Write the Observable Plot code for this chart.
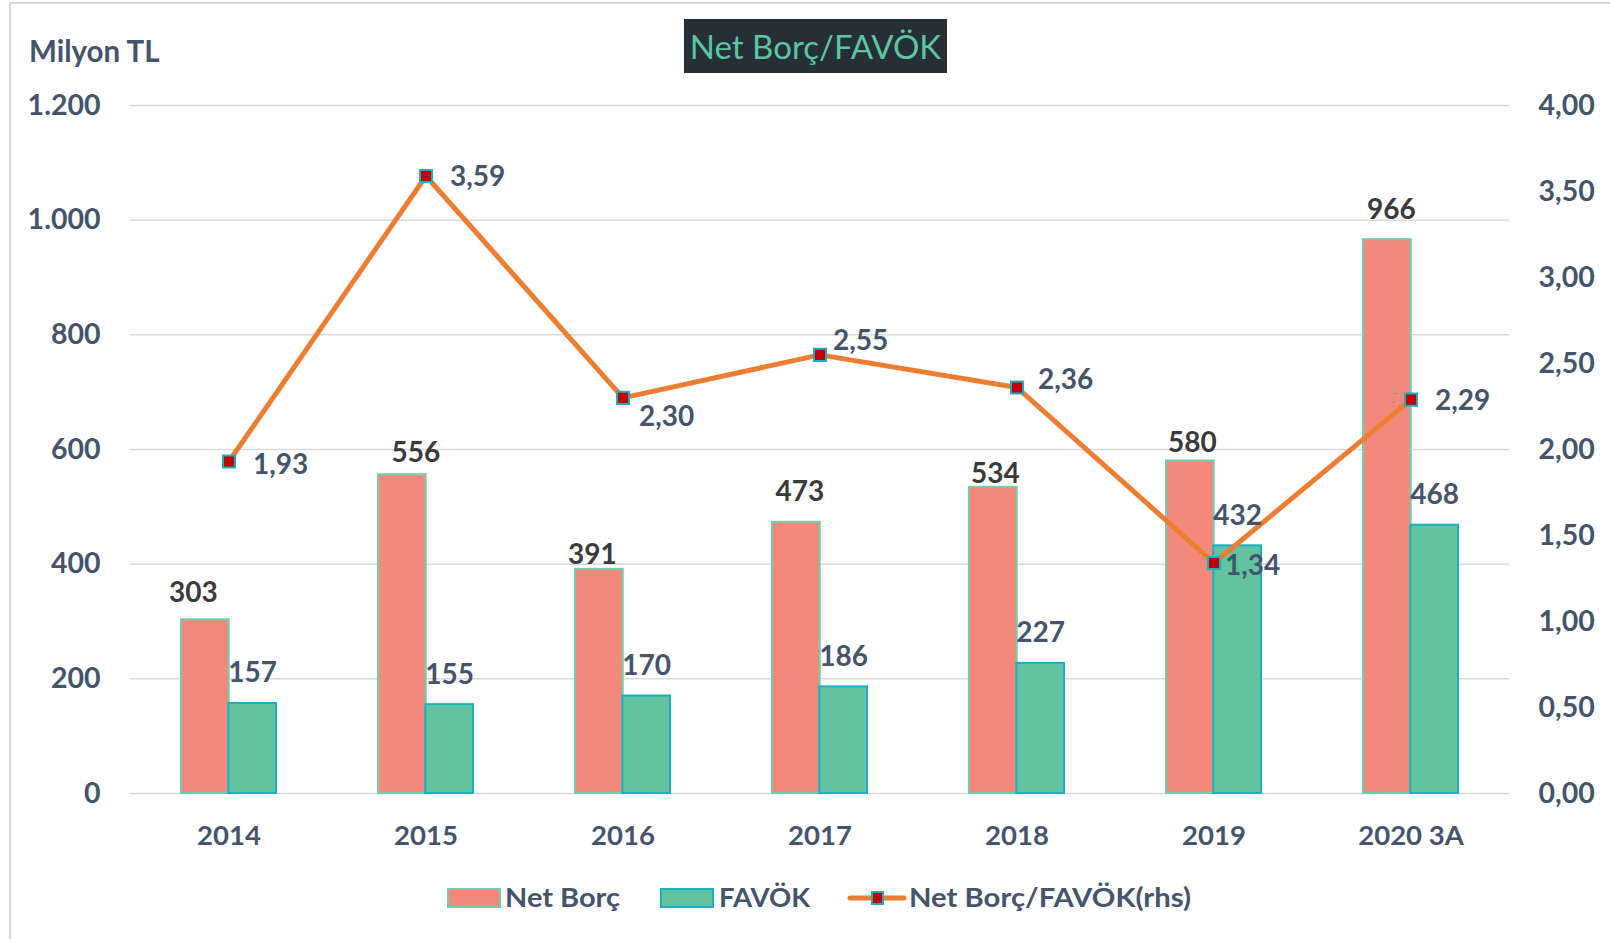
<!DOCTYPE html>
<html>
<head>
<meta charset="utf-8">
<script src="https://cdn.jsdelivr.net/npm/d3@7"></script>
<script src="https://cdn.jsdelivr.net/npm/@observablehq/plot@0.6"></script>
<style>
  html, body { margin: 0; padding: 0; background: #ffffff; }
  #wrap { position: relative; width: 1610px; height: 939px; overflow: hidden; font-family: Lato, "Open Sans", sans-serif; }
  #frame-top { position: absolute; left: 10px; top: 2px; width: 1600px; height: 2px; background: #D9D9D9; }
  #frame-left { position: absolute; left: 9px; top: 2px; width: 2px; height: 937px; background: #D9D9D9; }
  #title { position: absolute; left: 684px; top: 19px; width: 263px; height: 54px; background: #262E38; color: #5CC6A0;
           font-family: Lato, sans-serif; font-weight: 400; font-size: 33px; line-height: 54px; text-align: center; }
  #unit { position: absolute; left: 29px; top: 36px; font-family: Lato, sans-serif; font-weight: 700; font-size: 29.5px; line-height: 30px; color: #44546A; }
  #chart { position: absolute; left: 0; top: 0; }
  #legend { position: absolute; left: 0; top: 870px; }
</style>
</head>
<body>
<div id="wrap">
  <div id="frame-top"></div>
  <div id="frame-left"></div>
  <div id="chart"></div>
  <div id="title">Net Borç/FAVÖK</div>
  <div id="unit">Milyon TL</div>
  <svg id="legend" width="1610" height="60"></svg>
</div>
<script>
// ---- data ----
const years = ["2014", "2015", "2016", "2017", "2018", "2019", "2020 3A"];
const netBorc = [303, 556, 391, 473, 534, 580, 966];
const favok = [157, 155, 170, 186, 227, 432, 468];
const ratio = [1.93, 3.59, 2.30, 2.55, 2.36, 1.34, 2.29];
const leftTicks = [0, 200, 400, 600, 800, 1000, 1200];
const rightTicks = [0, 0.5, 1, 1.5, 2, 2.5, 3, 3.5, 4];
const seriesNames = ["Net Borç", "FAVÖK", "Net Borç/FAVÖK(rhs)"];

// label placement (pixels)
const netLabelDx = [-12, 13.5, -7, 3.5, 2, 2, 4];
const netLabelDy = [-27, -21.5, -14.5, -30, -13.5, -17.5, -30];
const ratioLabelDx = [24, 24, 16, 13, 21, 11, 24];
const ratioLabelDy = [3, 1, 19, -14, -8, 3, 1];

// ---- derived ----
const K = 1200 / 4; // right axis (0..4) mapped onto left axis (0..1200)
const rows = years.map((y, i) => ({year: y, net: netBorc[i], fav: favok[i], ratio: ratio[i], r: ratio[i] * K, i}));
const thousands = d3.formatLocale({decimal: ",", thousands: ".", grouping: [3], currency: ["", " TL"]}).format(",.0f");
const dec2 = v => v.toFixed(2).replace(".", ",");

const W = 1610, H = 860, ML = 130, MR = 101, MT = 105, MB = 67;
const step = (W - ML - MR) / years.length;
const half = step * 0.48 / 2;

const textCol = "#44546A";
const chart = Plot.plot({
  width: W, height: H,
  marginLeft: ML, marginRight: MR, marginTop: MT, marginBottom: MB,
  style: {fontFamily: "Lato, sans-serif", fontWeight: 700, fontSize: "27px", color: textCol, background: "transparent", overflow: "visible"},
  x: {domain: years, paddingInner: 0.52, paddingOuter: 0.26, label: null},
  y: {domain: [0, 1200], label: null},
  marks: [
    Plot.ruleY(leftTicks, {stroke: "#D9D9D9", strokeWidth: 1.5}),
    Plot.axisY(leftTicks, {anchor: "left", tickSize: 0, tickPadding: 30, tickFormat: thousands, label: null, fill: textCol, fontSize: 28.5}),
    Plot.axisY(rightTicks.map(v => v * K), {anchor: "right", tickSize: 0, tickPadding: 29, tickFormat: d => dec2(d / K), label: null, fill: textCol, fontSize: 28.5}),
    Plot.axisX({anchor: "bottom", tickSize: 0, tickPadding: 32, label: null, fill: textCol, fontSize: 27.5}),
    Plot.barY(rows, {x: "year", y: "net", fill: "#F4897B", stroke: "#6FCFAA", strokeWidth: 2, insetRight: half}),
    Plot.barY(rows, {x: "year", y: "fav", fill: "#62C3A0", stroke: "#1AB0C0", strokeWidth: 2, insetLeft: half}),
    Plot.line(rows, {x: "year", y: "r", stroke: "#ED7D31", strokeWidth: 5, curve: "linear"}),
    Plot.dot(rows, {x: "year", y: "r", symbol: "square", r: 6.8, fill: "#C00000", stroke: "#1AB0C0", strokeWidth: 2}),
    ...rows.map(d => Plot.text([d], {x: "year", y: "net", text: d => String(d.net), dx: -half / 2 + netLabelDx[d.i], dy: netLabelDy[d.i], lineAnchor: "middle", fill: "#3A3A3A", fontSize: 28, fontWeight: 700})),
    Plot.text(rows, {x: "year", y: "fav", text: d => String(d.fav), dx: half / 2, dy: -30, lineAnchor: "middle", fill: textCol, fontSize: 28, fontWeight: 700}),
    ...rows.map(d => Plot.text([d], {x: "year", y: "r", text: d => dec2(d.ratio), dx: ratioLabelDx[d.i], dy: ratioLabelDy[d.i], textAnchor: "start", lineAnchor: "middle", fill: textCol, fontSize: 28, fontWeight: 700}))
  ]
});
document.getElementById("chart").appendChild(chart);

// ---- legend ----
const lg = d3.select("#legend");
const cy = 28;
function legText(x, w, t) {
  lg.append("text").attr("x", x).attr("y", cy).attr("dy", "0.35em")
    .attr("textLength", w).attr("lengthAdjust", "spacingAndGlyphs")
    .attr("fill", textCol).attr("font-family", "Lato, sans-serif").attr("font-weight", 700).attr("font-size", 27)
    .text(t);
}
lg.append("rect").attr("x", 448).attr("y", cy - 9).attr("width", 52).attr("height", 18).attr("fill", "#F4897B").attr("stroke", "#6FCFAA").attr("stroke-width", 2);
legText(505, 115, seriesNames[0]);
lg.append("rect").attr("x", 661).attr("y", cy - 9).attr("width", 52).attr("height", 18).attr("fill", "#62C3A0").attr("stroke", "#1AB0C0").attr("stroke-width", 2);
legText(719, 91, seriesNames[1]);
lg.append("line").attr("x1", 850).attr("x2", 904).attr("y1", cy).attr("y2", cy).attr("stroke", "#ED7D31").attr("stroke-width", 5).attr("stroke-linecap", "round");
lg.append("rect").attr("x", 872).attr("y", cy - 6).attr("width", 11).attr("height", 12).attr("fill", "#C00000").attr("stroke", "#1AB0C0").attr("stroke-width", 2);
legText(909, 282, seriesNames[2]);
</script>
</body>
</html>
